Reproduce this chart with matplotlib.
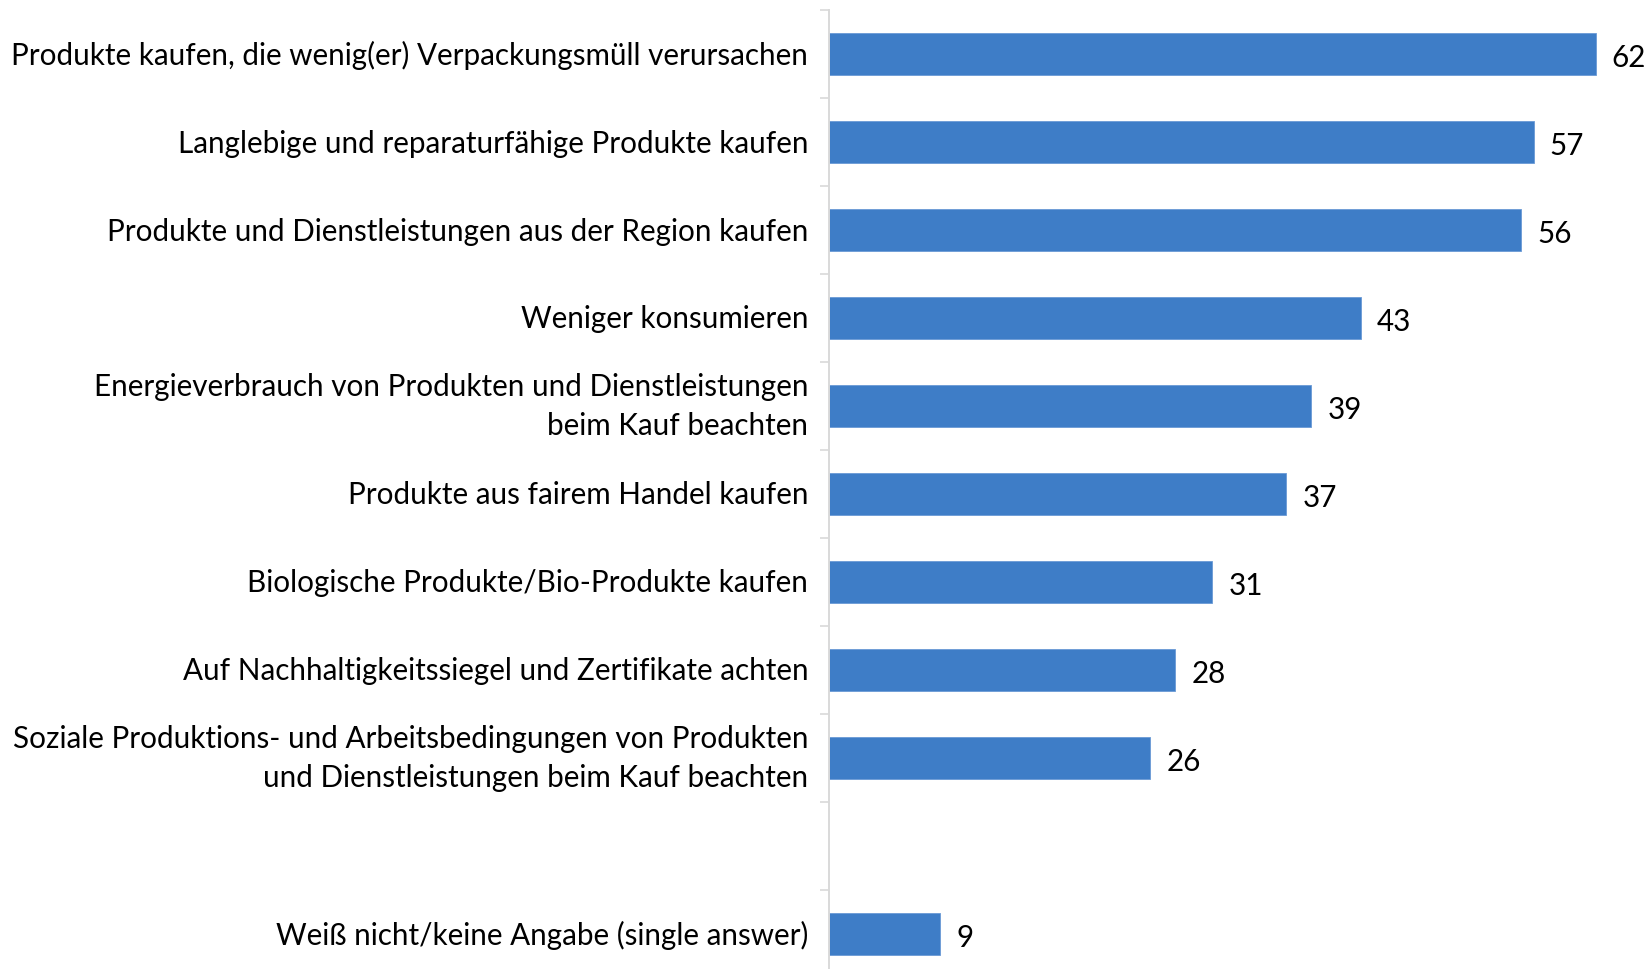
import numpy as np
import matplotlib
matplotlib.use('Agg')
import matplotlib.pyplot as plt
import matplotlib.transforms as mtransforms
from matplotlib.ticker import FixedLocator

plt.rcParams['font.family'] = ['Lato', 'DejaVu Sans']

categories = [
    "Produkte kaufen, die wenig(er) Verpackungsmüll verursachen",
    "Langlebige und reparaturfähige Produkte kaufen",
    "Produkte und Dienstleistungen aus der Region kaufen",
    "Weniger konsumieren",
    "Energieverbrauch von Produkten und Dienstleistungen\nbeim Kauf beachten",
    "Produkte aus fairem Handel kaufen",
    "Biologische Produkte/Bio-Produkte kaufen",
    "Auf Nachhaltigkeitssiegel und Zertifikate achten",
    "Soziale Produktions- und Arbeitsbedingungen von Produkten\nund Dienstleistungen beim Kauf beachten",
    "Weiß nicht/keine Angabe (single answer)",
]
values = [62, 57, 56, 43, 39, 37, 31, 28, 26, 9]

bar_color = '#3e7dc7'
fs = 21.3

# one empty slot before the last category
y = np.arange(len(categories)).astype(float)
y[-1] += 1

fig = plt.figure(figsize=(16.48, 9.70), dpi=100)
ax = fig.add_axes([829/1648, 1 - 979/970, 816/1648, 968/970])
ax.barh(y, values, height=0.47, color=bar_color, edgecolor='#6a9ad6', linewidth=0.6)
for yi, v in zip(y, values):
    ax.text(v + 1.3, yi + 0.03, str(v), va='center', ha='left', fontsize=fs, color='black')

ax.set_xlim(0, 66)
ax.set_ylim(y[-1] + 0.5, -0.5)
ax.set_yticks(y)
ax.set_yticklabels(categories, fontsize=fs, linespacing=1.45)
ax.tick_params(axis='y', which='major', length=0, pad=15)
ax.yaxis.set_minor_locator(FixedLocator(np.arange(-0.5, y[-1] + 1, 1)))
ax.tick_params(axis='y', which='minor', length=6.5, width=1.2, color='#d9d9d9')
for lab in ax.get_yticklabels():
    lab.set_multialignment('right')
    dy = 2 + (6 if '\n' in lab.get_text() else 0)
    lab.set_transform(lab.get_transform() +
                      mtransforms.ScaledTranslation(0, dy / 100, fig.dpi_scale_trans))
ax.set_xticks([])
for s in ['top', 'right', 'bottom']:
    ax.spines[s].set_visible(False)
ax.spines['left'].set_color('#d9d9d9')
ax.spines['left'].set_linewidth(1.4)

fig.savefig('out.png', dpi=100)
